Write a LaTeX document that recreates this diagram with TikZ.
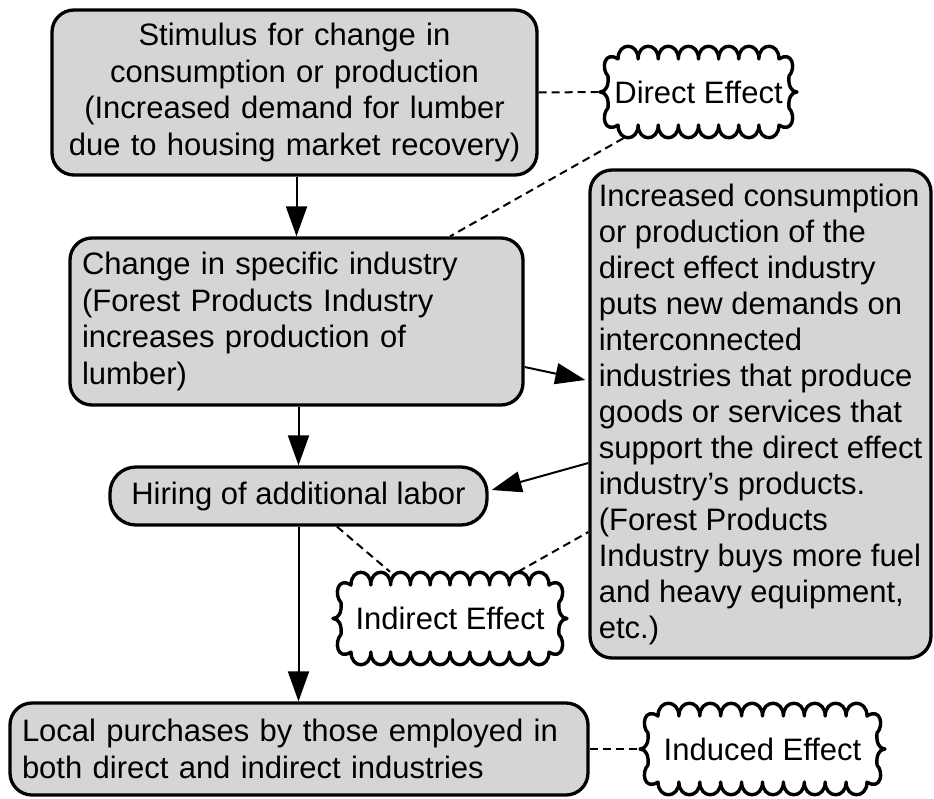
\documentclass[tikz,border=0pt]{standalone}
\usepackage{fontspec}
\setmainfont{Liberation Sans}
\usetikzlibrary{arrows.meta,calc}
\definecolor{boxfill}{gray}{0.835}
\tikzset{
  base/.style={font=\fontsize{31}{36.5}\selectfont, text=black},
  stage/.style={base, draw=black, line width=3.3pt, fill=boxfill,
                rounded corners=22pt, inner sep=0pt},
  flow/.style={line width=2pt, -{Triangle[length=30pt,width=21pt]}},
  link/.style={line width=2pt, dash pattern=on 8pt off 5pt},
  puff/.style={draw=black, line width=3.4pt, fill=white, line join=round},
  pufftext/.style={base, inner sep=0pt},
}
% Cloud-shaped label: name, left, top, right, bottom, number of scallops, text
\newcommand\puffnode[7]{%
  \pgfmathsetmacro\pfL{#2+18}\pgfmathsetmacro\pfR{#4-18}%
  \pgfmathsetmacro\pfT{#3+13}\pgfmathsetmacro\pfB{#5-13}%
  \pgfmathsetmacro\pfM{(#3+#5)/2}%
  \pgfmathsetmacro\pfW{(\pfR-\pfL)/#6}%
  \pgfmathsetmacro\pfCx{(#2+#4)/2}%
  \pgfmathsetmacro\pfw{#4-#2}\pgfmathsetmacro\pfh{#5-#3}%
  \path[puff] (\pfL,\pfT)
    \foreach \k in {1,...,#6}{ .. controls +(0,-17) and +(0,-17) .. ++(\pfW,0) }
    % right side, shaped like a closing brace
    .. controls (#4-4,#3+4) and (#4-1,\pfM-23) .. (#4-8,\pfM-16)
    .. controls (#4-9,\pfM-7) and (#4-6,\pfM) .. (#4,\pfM)
    .. controls (#4-6,\pfM) and (#4-9,\pfM+7) .. (#4-8,\pfM+16)
    .. controls (#4-1,\pfM+23) and (#4-4,#5-4) .. (\pfR,\pfB)
    \foreach \k in {1,...,#6}{ .. controls +(0,17) and +(0,17) .. ++(-\pfW,0) }
    % left side, shaped like an opening brace
    .. controls (#2+4,#5-4) and (#2+1,\pfM+23) .. (#2+8,\pfM+16)
    .. controls (#2+9,\pfM+7) and (#2+6,\pfM) .. (#2,\pfM)
    .. controls (#2+6,\pfM) and (#2+9,\pfM-7) .. (#2+8,\pfM-16)
    .. controls (#2+1,\pfM-23) and (#2+4,#3+4) .. cycle;
  \node[pufftext, minimum width=\pfw pt, minimum height=\pfh pt] (#1) at (\pfCx,\pfM) {#7};
}
\begin{document}
\begin{tikzpicture}[x=1pt,y=-1pt]
\path[use as bounding box] (0,0) rectangle (934,798);

% process boxes
\node[stage, minimum width=485pt, minimum height=165pt, text width=470pt, align=center]
  (stim) at (294.5,92.5)
  {Stimulus for change in\\consumption or production\\(Increased demand for lumber\\due to housing market recovery)};
\node[stage, inner xsep=12pt, minimum width=453pt, minimum height=167pt, text width=429pt, align=left]
  (chg) at (296.5,321.5)
  {Change in specific industry\\(Forest Products Industry\\increases production of\\lumber)};
\node[stage, rounded corners=26pt, minimum width=377pt, minimum height=58pt]
  (hire) at (298.5,496) {Hiring of additional labor};
\node[stage, inner xsep=12pt, minimum width=578pt, minimum height=92pt, text width=554pt, align=left]
  (local) at (299,749)
  {Local purchases by those employed in\\both direct and indirect industries};
\node[stage, font=\fontsize{31}{36}\selectfont, minimum width=341pt,
      minimum height=488pt, align=left]
  (rbox) at (760.5,414)
  {Increased consumption\\or production of the\\direct effect industry\\puts new demands on\\interconnected\\industries that produce\\goods or services that\\support the direct effect\\industry’s products.\\(Forest Products\\Industry buys more fuel\\and heavy equipment,\\etc.)};

% effect clouds
\puffnode{direct}{600}{46}{797}{138}{8}{Direct Effect}
\puffnode{indirect}{333}{572}{567}{665}{10}{Indirect Effect}
\puffnode{induced}{640}{703}{885}{795}{10}{Induced Effect}

% flow arrows
\draw[flow] (chg.north |- stim.south) -- (chg.north);
\draw[flow] (hire.north |- chg.south) -- (hire.north);
\draw[flow] (hire.south) -- (hire.south |- local.north);
\draw[flow] ($(chg.east)+(0,45.5)$) -- ($(rbox.west)+(-3,-34)$);
\draw[flow] ($(rbox.west)+(0,49)$) -- ($(hire.east)+(3,-6)$);

% dashed links to the effect clouds
\draw[link] (stim.east) -- (direct.west);
\draw[link] ($(direct.south)+(-75,0)$) -- ($(chg.north)+(153.5,0)$);
\draw[link] ($(hire.south)+(38.5,0)$) -- ($(indirect.north)+(-60,0)$);
\draw[link] ($(indirect.north)+(68,0)$) -- ($(rbox.west)+(0,118)$);
\draw[link] (local.east) -- (induced.west);
\end{tikzpicture}
\end{document}
